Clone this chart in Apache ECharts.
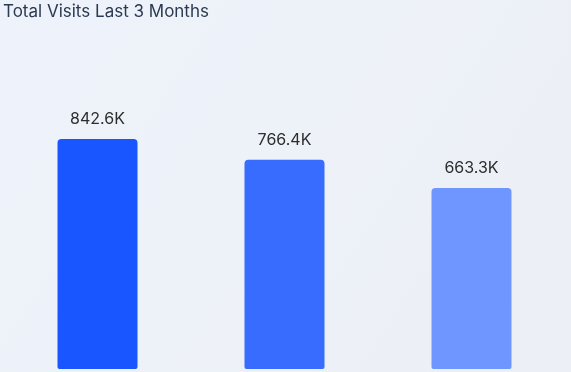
<!DOCTYPE html>
<html>
<head>
<meta charset="utf-8">
<script src="https://cdn.jsdelivr.net/npm/echarts@6/dist/echarts.min.js"></script>
<style>
html,body{margin:0;padding:0;}
#c{width:571px;height:372px;}
</style>
</head>
<body>
<div id="c"></div>
<script>
const title = 'Total Visits Last 3 Months';
const categories = ['Month 1', 'Month 2', 'Month 3'];
const visits = [842600, 766400, 663300];
const barColors = ['#1a56ff', '#376cff', '#6f95ff'];

const chart = echarts.init(document.getElementById('c'));
chart.setOption({
  animation: false,
  backgroundColor: {
    type: 'linear', x: 0, y: 0, x2: 1, y2: 1,
    colorStops: [{offset: 0, color: '#eef3fb'}, {offset: 1, color: '#eceff5'}]
  },
  title: {
    text: title, left: -2, top: -2,
    textStyle: {fontFamily: 'Inter', fontSize: 17, fontWeight: 'normal', color: '#2b3a50'}
  },
  grid: {left: 4, right: 6, top: 96, bottom: 3},
  xAxis: {type: 'category', data: categories, show: false},
  yAxis: {type: 'value', min: 0, max: 1000000, show: false},
  series: [{
    type: 'bar',
    barWidth: 80,
    data: visits.map((v, i) => ({value: v, itemStyle: {color: barColors[i]}})),
    itemStyle: {borderRadius: [4, 4, 2, 2]},
    label: {
      show: true, position: 'top', distance: 12,
      fontFamily: 'Inter', fontSize: 16, color: '#2d2d2d',
      formatter: p => (p.value / 1000).toFixed(1) + 'K'
    }
  }]
});
</script>
</body>
</html>
